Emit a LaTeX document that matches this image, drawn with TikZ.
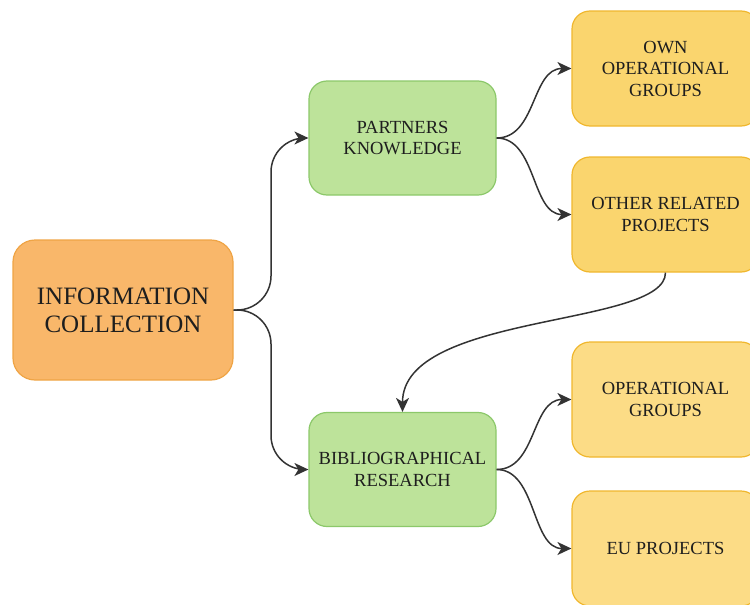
\documentclass[tikz,border=0pt]{standalone}
\usepackage{fontspec}
\setmainfont{LiberationSerif}[Extension=.ttf,UprightFont=*-Regular,BoldFont=*-Bold]
\usetikzlibrary{arrows.meta,calc}
\definecolor{orfill}{HTML}{F9B76A}
\definecolor{ordraw}{HTML}{EFA445}
\definecolor{grfill}{HTML}{BDE39A}
\definecolor{grdraw}{HTML}{8CC86A}
\definecolor{yefill}{HTML}{FAD56E}
\definecolor{yefilltwo}{HTML}{FCDC86}
\definecolor{yedraw}{HTML}{F0B72E}
\definecolor{lnc}{HTML}{333333}
\definecolor{txc}{HTML}{1E1E1E}
\tikzset{
  base/.style={rounded corners=18pt, line width=1.2pt, align=center, text=txc, inner sep=0pt},
  mainbox/.style={base, fill=orfill, draw=ordraw, minimum width=220pt, minimum height=140pt, rounded corners=22pt,
    font=\rmfamily\fontsize{25}{28}\selectfont},
  greenbox/.style={base, fill=grfill, draw=grdraw, minimum width=187pt, minimum height=114pt,
    font=\rmfamily\fontsize{18.5}{21.5}\selectfont},
  yellowbox/.style={base, fill=yefill, draw=yedraw, minimum width=187pt, minimum height=115pt,
    font=\rmfamily\fontsize{18.5}{21.5}\selectfont},
  yellowboxb/.style={yellowbox, fill=yefilltwo},
  tipstyle/.style={-{Stealth[length=14pt,width=13pt,inset=4pt]}},
  conn/.style={draw=lnc, line width=1.5pt, tipstyle, rounded corners=34pt},
  connc/.style={draw=lnc, line width=1.5pt, tipstyle}
}
\begin{document}
\begin{tikzpicture}[x=1pt,y=-1pt]
\useasboundingbox (0,0) rectangle (750,605);
\clip (0,0) rectangle (750,605);
\node[mainbox] (info) at (123,310) {INFORMATION\\COLLECTION};
\node[greenbox] (pk) at (402.5,138) {PARTNERS\\KNOWLEDGE};
\node[greenbox] (bib) at (402.5,469.5) {BIBLIOGRAPHICAL\\RESEARCH};
\node[yellowbox] (oog) at (665.5,68.5) {OWN\\OPERATIONAL\\GROUPS};
\node[yellowbox] (orp) at (665.5,214.5) {OTHER RELATED\\PROJECTS};
\node[yellowboxb] (og) at (665.5,399.5) {OPERATIONAL\\GROUPS};
\node[yellowboxb] (eu) at (665.5,548.5) {EU PROJECTS};
\coordinate (m1) at ($(info.east)!0.5!(pk.west)$);
\draw[conn] (info.east) -| (m1 |- pk.west) -- (pk.west);
\draw[conn] (info.east) -| (m1 |- bib.west) -- (bib.west);
\draw[connc] (pk.east) .. controls ($(pk.east)+(40,0)$) and ($(oog.west)+(-40,0)$) .. (oog.west);
\draw[connc] (pk.east) .. controls ($(pk.east)+(40,0)$) and ($(orp.west)+(-40,0)$) .. (orp.west);
\draw[connc] (bib.east) .. controls ($(bib.east)+(40,0)$) and ($(og.west)+(-40,0)$) .. (og.west);
\draw[connc] (bib.east) .. controls ($(bib.east)+(40,0)$) and ($(eu.west)+(-40,0)$) .. (eu.west);
\draw[connc] (orp.south) .. controls ($(orp.south)+(0,55)$) and ($(bib.north)+(0,-100)$) .. (bib.north);
\end{tikzpicture}
\end{document}
